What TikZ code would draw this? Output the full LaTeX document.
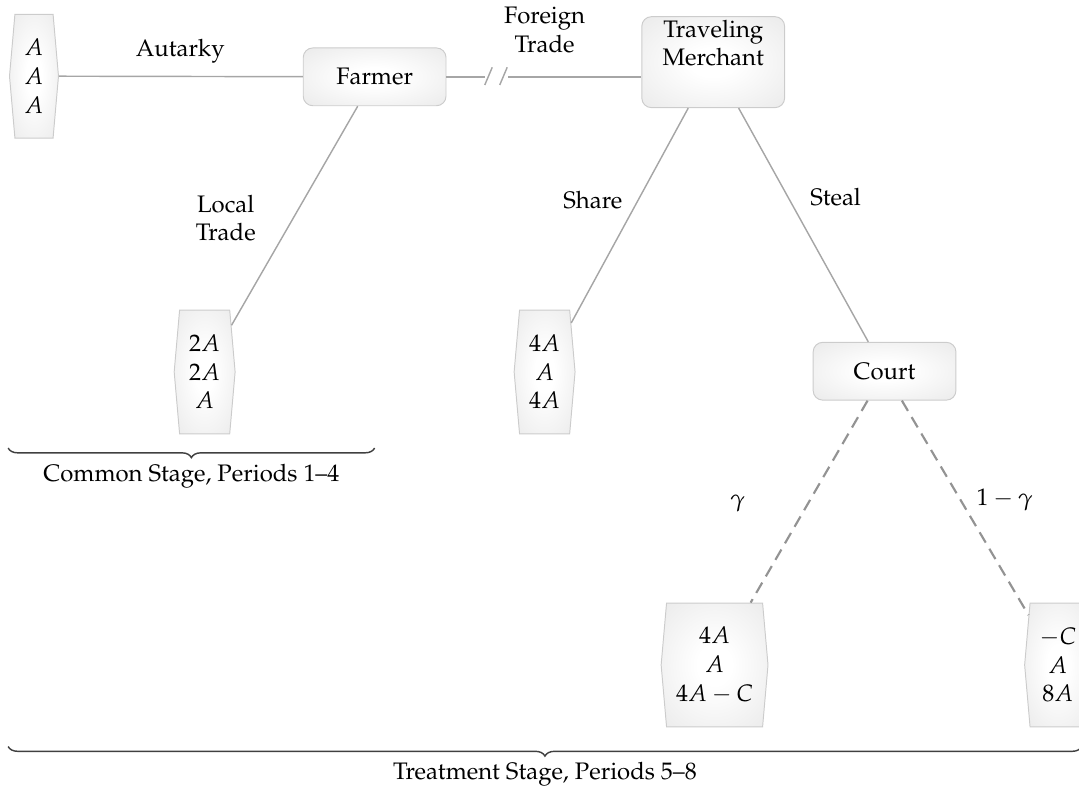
\documentclass[tikz,border=0pt]{standalone}
\usepackage[T1]{fontenc}
\usepackage{mathpazo}
\usetikzlibrary{shapes.symbols,decorations.pathreplacing}
\pgfdeclareradialshading{softglow}{\pgfpoint{0bp}{0bp}}{color(0bp)=(white); color(8bp)=(white); color(46bp)=(gray!22); color(50bp)=(gray!22)}
\tikzset{
  player/.style={draw=gray!40, rounded corners=4pt, shading=softglow,
    minimum width=2.1cm, minimum height=0.85cm, align=center},
  payoff/.style={signal, signal to=east and west, signal pointer angle=170, draw=gray!40,
    shading=softglow, minimum height=1.82cm, inner xsep=4pt, align=center},
  move/.style={gray!70, line width=0.6pt},
  chance/.style={gray!85, line width=0.9pt, dash pattern=on 5pt off 3pt},
  stage/.style={decorate, decoration={brace, mirror, amplitude=4pt}, black!75, line width=0.6pt}
}
\begin{document}
\begin{tikzpicture}
    \useasboundingbox (0,0) rectangle (15.87,-11.6);
    % decision nodes
    \node[player] (farmer) at (5.51,-1.13) {Farmer};
    \node[player, inner ysep=1.3pt, text depth=0.57cm, anchor=south] (merchant) at (10.49,-1.59) {Traveling\\Merchant};
    \node[player] (court) at (13.01,-5.46) {Court};
    % payoffs
    \node[payoff] (autarky) at (0.50,-1.12) {$A$\\$A$\\$A$};
    \node[payoff] (local) at (3.01,-5.47) {$2A$\\$2A$\\$A$};
    \node[payoff] (share) at (8.01,-5.47) {$4A$\\$A$\\$4A$};
    \node[payoff] (caught) at (10.51,-9.78) {$4A$\\$A$\\$4A-C$};
    \node[payoff] (free) at (15.56,-9.78) {$-C$\\$A$\\$8A$};
    % moves
    \draw[move] (autarky) -- (farmer);
    \draw[move] (farmer) -- (local);
    \draw[move] (merchant) -- (share);
    \draw[move] (merchant) -- (court);
    \draw[chance] (court) -- (caught);
    \draw[chance] (court) -- (free);
    % foreign trade, cut
    \coordinate (cut) at (7.30,-1.13);
    \draw[move] (farmer.east) -- ([xshift=-0.17cm]cut);
    \draw[move] ([xshift=-0.17cm,yshift=-0.12cm]cut) -- ++(0.11,0.26);
    \draw[move] ([xshift=0.05cm,yshift=-0.12cm]cut) -- ++(0.11,0.26);
    \draw[move] ([xshift=0.17cm]cut) -- (merchant.west |- cut);
    % labels
    \node at (2.65,-0.76) {Autarky};
    \node[align=center] at (8.01,-0.44) {Foreign\\Trade};
    \node[align=center] at (3.32,-3.21) {Local\\Trade};
    \node at (8.72,-2.94) {Share};
    \node at (12.29,-2.90) {Steal};
    \node at (10.85,-7.40) {$\gamma$};
    \node at (14.78,-7.35) {$1-\gamma$};
    % stages
    \draw[stage] (0.12,-6.59) -- (5.51,-6.59) node[midway, below=3pt, text=black] {Common Stage, Periods 1--4};
    \draw[stage] (0.12,-10.98) -- (15.91,-10.98) node[midway, below=3pt, text=black] {Treatment Stage, Periods 5--8};
\end{tikzpicture}
\end{document}
